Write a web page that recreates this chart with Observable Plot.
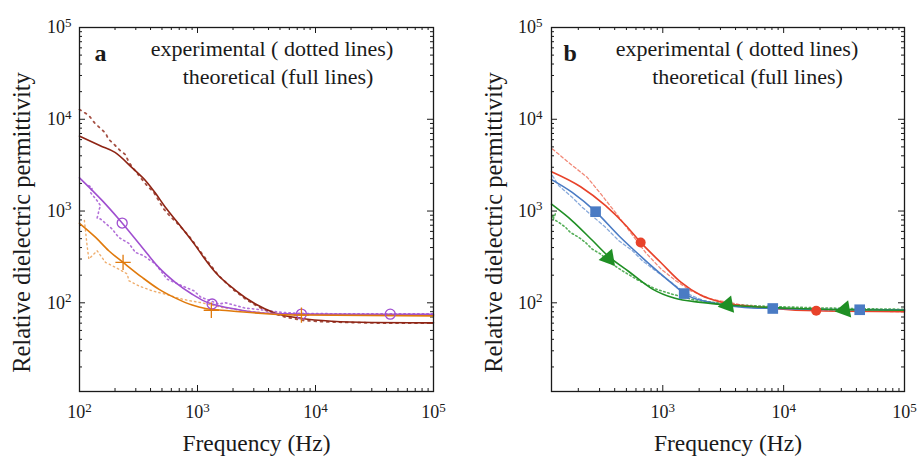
<!DOCTYPE html>
<html><head><meta charset="utf-8">
<script src="https://cdn.jsdelivr.net/npm/d3@7"></script>
<script src="https://cdn.jsdelivr.net/npm/@observablehq/plot@0.6"></script>
<style>
body{margin:0;background:#fff;}
#wrap{position:relative;width:917px;height:456px;}
#wrap > svg{position:absolute;top:0;}
#wrap svg, #wrap svg text, #wrap svg tspan{font-family:"Liberation Serif","Times New Roman",serif !important;}
</style></head><body><div id="wrap"></div>
<script>
// ---------- Panel a (f in Hz, relative permittivity) ----------
const aDarkRedFit = [[100,6550],[150,5150],[200,4350],[280,2950],[374,2050],[441,1560],[530,1115],[673,760],[961,420],[1130,312],[1422,214],[2100,137],[3100,97],[4580,77],[7700,67.5],[13800,63],[30000,61],[100000,60.5]];
const aDarkRedExp = [[100,12800],[120,11000],[135,9040],[156,7650],[168,6920],[175,6110],[195,5380],[218,4640],[245,4120],[262,3390],[290,2850],[330,2300],[374,1890],[426,1600],[469,1298],[518,1052],[590,867],[700,700],[850,530],[1000,400],[1200,290],[1500,200],[2000,140],[2600,108],[3300,90],[4200,78],[5500,70],[8000,64],[12000,62],[20000,61],[40000,60],[100000,60]];
const aPurpleFit = [[100,2300],[156,1297],[215,818],[340,401],[469,243],[652,166],[902,124],[1130,105],[1330,97],[2100,85.4],[3530,77.5],[7600,75.3],[100000,75]];
const aPurpleExp = [[120,1890],[128,1780],[124,1590],[141,1297],[151,1143],[146,1025],[144,927],[141,839],[151,818],[166,735],[189,637],[215,516],[262,444],[298,354],[350,326],[441,264],[553,181],[742,153],[932,135],[1060,116],[1510,97],[1730,100],[2540,87.5],[3100,85.4],[5220,78.5],[8000,76.5],[15000,76],[40000,76],[100000,76]];
const aOrangeFit = [[100,735],[137,516],[177,369],[234,276],[340,189],[469,141],[652,112.5],[902,94.4],[1170,86.5],[1840,81.8],[3530,76.6],[7700,73.5],[100000,72]];
const aOrangeExp = [[110,790],[116,418],[120,300],[141,369],[166,276],[202,243],[254,206],[262,174],[318,153],[413,135],[535,124],[694,112],[870,105],[1090,100],[1620,89],[2500,82],[4000,77],[7000,75],[15000,74.5],[40000,74],[100000,73.5]];
const aPurpleMarks = [[230,740],[1330,97],[7600,75.3],[43000,75.2]];
const aOrangeMarks = [[234,276],[1310,83],[7600,73.5]];

// ---------- Panel b ----------
const bRedFit = [[120,2685],[209,1841],[336,1143],[493,700],[656,455],[962,275],[1410,168],[2066,121],[3027,102],[6500,89.3],[18600,81.8],[100000,80]];
const bRedExp = [[122,4750],[172,3260],[237,2330],[306,1545],[407,959],[542,581],[723,351],[962,235],[1282,174],[1707,135],[2500,110],[4440,95],[9530,86],[24800,82],[100000,80]];
const bBlueFit = [[120,2200],[178,1597],[278,984],[433,538],[723,287],[1282,150],[1503,126],[2500,100.7],[4730,89],[8130,86.7],[42600,84],[100000,84]];
const bBlueExp = [[122,2430],[138,1888],[178,1410],[216,1097],[336,664],[433,474],[561,369],[678,287],[875,223],[1128,174],[1500,130],[2200,105],[3500,93],[6000,88],[15000,86],[40000,85],[100000,84]];
const bGreenFit = [[120,1187],[178,783],[261,480],[356,320],[526,218],[822,141],[1241,112.5],[2066,101],[3665,94],[11500,87.1],[33000,83.9],[100000,82.8]];
const bGreenExp = [[122,861],[129,929],[124,818],[138,751],[157,664],[172,584],[202,516],[229,455],[261,384],[306,340],[382,264],[463,223],[636,174],[875,141],[1203,124],[1800,108],[2670,100.7],[4000,95],[8000,91],[20000,88],[50000,86],[100000,85]];
const bBlueMarks = [[278,984],[1503,126],[8130,86.7],[42600,84]];
const bRedMarks = [[656,455],[18600,81.8]];
const bGreenMarks = [[356,305],[3440,94.5],[32000,84]];

// ---------- Axes / labels ----------
const yMajor = [1e2, 1e3, 1e4, 1e5];
const xMajorA = [1e2, 1e3, 1e4, 1e5];
const xMajorB = [1e3, 1e4, 1e5];
const legendLines = ["experimental ( dotted lines)", "theoretical (full lines)"];
const xTitle = "Frequency (Hz)";
const yTitle = "Relative dielectric permittivity";
const panelLetters = ["a", "b"];

const C = {darkred:"#8e2414", purple:"#a04fd0", orange:"#e07a0c", red:"#e8422a", blue:"#4a7bc4", green:"#1f8f24", ink:"#1a1a1a"};
const FONT = "Liberation Serif";
const H = 456, MT = 27, MB = 65;
const yDomain = [10.8, 1e5];

function minors(lo, hi) {
  const out = [];
  for (let e = 0; e <= 5; e++) for (let m = 2; m <= 9; m++) { const v = m * 10 ** e; if (v > lo && v < hi) out.push(v); }
  return out;
}
const pts = arr => arr.map(([f, e]) => ({f, e}));

function panel({width, ml, mr, xDomain, xMajor, letter, series, markers, legendDx}) {
  const fw = width - ml - mr, fh = H - MT - MB;
  const xMin = minors(xDomain[0], xDomain[1]), yMin = minors(yDomain[0], yDomain[1]);
  const xMaj = xMajor.filter(v => v >= xDomain[0] && v <= xDomain[1]);
  const tk = {stroke: C.ink, strokeWidth: 1};
  const marks = [
    Plot.tickX(xMaj, {x: d => d, insetTop: fh - 6, ...tk}),
    Plot.tickX(xMaj, {x: d => d, insetBottom: fh - 6, ...tk}),
    Plot.tickX(xMin, {x: d => d, insetTop: fh - 3, ...tk}),
    Plot.tickX(xMin, {x: d => d, insetBottom: fh - 3, ...tk}),
    Plot.tickY(yMajor, {y: d => d, insetRight: fw - 6, ...tk}),
    Plot.tickY(yMajor, {y: d => d, insetLeft: fw - 6, ...tk}),
    Plot.tickY(yMin, {y: d => d, insetRight: fw - 3, ...tk}),
    Plot.tickY(yMin, {y: d => d, insetLeft: fw - 3, ...tk}),
    Plot.axisX({ticks: xMajor, tickSize: 0, tickPadding: 14, fontSize: 18, fontFamily: FONT, label: null, tickFormat: d => "10^" + Math.round(Math.log10(d))}),
    Plot.axisY({ticks: yMajor, tickSize: 0, tickPadding: ml === 79 ? 8 : 9, fontSize: 18, fontFamily: FONT, label: null, tickFormat: d => "10^" + Math.round(Math.log10(d))}),
  ];
  for (const s of series) {
    marks.push(Plot.line(pts(s.data), {x: "f", y: "e", stroke: s.color, strokeWidth: s.exp ? s.w : 1.6,
      strokeDasharray: s.exp ? s.dash : null, strokeOpacity: s.exp ? 0.8 : 1, curve: s.exp ? "linear" : "monotone-x"}));
  }
  for (const m of markers) {
    marks.push(Plot.dot(pts(m.data), {x: "f", y: "e", symbol: m.symbol, r: m.r, fill: m.fill, stroke: m.stroke, strokeWidth: 1.3, rotate: m.rotate || 0}));
  }
  const txt = {fontFamily: FONT, fill: C.ink};
  marks.push(
    Plot.frame({stroke: C.ink, strokeWidth: 1.3}),
    Plot.text([letter], {text: d => d, frameAnchor: "top-left", dx: ml === 79 ? 15 : 12, dy: 33, lineAnchor: "bottom", textAnchor: "start", fontSize: 24, fontWeight: "bold", ...txt}),
    Plot.text([legendLines[0]], {text: d => d, frameAnchor: "top-left", dx: legendDx[0], dy: 28, lineAnchor: "bottom", textAnchor: "middle", fontSize: 22, ...txt}),
    Plot.text([legendLines[1]], {text: d => d, frameAnchor: "top-left", dx: legendDx[1], dy: 56, lineAnchor: "bottom", textAnchor: "middle", fontSize: 22, ...txt}),
    Plot.text([xTitle], {text: d => d, frameAnchor: "bottom", dy: 59, lineAnchor: "bottom", textAnchor: "middle", fontSize: 23.5, ...txt}),
    Plot.text([yTitle], {text: d => d, frameAnchor: "left", dx: -50, dy: 13, rotate: -90, lineAnchor: "bottom", textAnchor: "middle", fontSize: 24.5, ...txt})
  );
  const svg = Plot.plot({
    width, height: H, marginLeft: ml, marginRight: mr, marginTop: MT, marginBottom: MB,
    x: {type: "log", domain: xDomain}, y: {type: "log", domain: yDomain},
    style: {fontFamily: FONT, background: "white", color: C.ink, overflow: "visible"},
    marks
  });
  // superscript exponents in tick labels
  d3.select(svg).selectAll('g[aria-label="x-axis tick label"] text, g[aria-label="y-axis tick label"] text').each(function () {
    const t = d3.select(this), s = t.text();
    if (!s.includes("^")) return;
    const [b, p] = s.split("^");
    t.text(null);
    t.append("tspan").text(b);
    t.append("tspan").attr("dy", -6.5).attr("font-size", 13).text(p);
  });
  return svg;
}

const wrap = document.getElementById("wrap");
const dotA = "1.4 3.2";
const svgA = panel({
  width: 458, ml: 79, mr: 25, xDomain: [1e2, 1e5], xMajor: xMajorA, letter: panelLetters[0], legendDx: [192.5, 198.5],
  series: [
    {data: aDarkRedExp, color: C.darkred, exp: true, dash: "1.8 4.5", w: 1.8},
    {data: aPurpleExp, color: C.purple, exp: true, dash: dotA, w: 1.6},
    {data: aOrangeExp, color: "#eb9a4a", exp: true, dash: dotA, w: 1.4},
    {data: aDarkRedFit, color: C.darkred},
    {data: aPurpleFit, color: C.purple},
    {data: aOrangeFit, color: C.orange}
  ],
  markers: [
    {data: aPurpleMarks, symbol: "circle", r: 5, fill: "none", stroke: C.purple},
    {data: aOrangeMarks, symbol: "plus", r: 5, fill: "none", stroke: C.orange}
  ]
});
svgA.style.left = "0px";
const svgB = panel({
  width: 459, ml: 93, mr: 13, xDomain: [120, 1e5], xMajor: xMajorB, letter: panelLetters[1], legendDx: [185.5, 196],
  series: [
    {data: bRedExp, color: "#ee6a55", exp: true, dash: "3 2.5", w: 1.3},
    {data: bBlueExp, color: "#6b95d2", exp: true, dash: "3 2.5", w: 1.3},
    {data: bGreenExp, color: "#2c9a30", exp: true, dash: "1.6 2.6", w: 1.6},
    {data: bRedFit, color: C.red},
    {data: bBlueFit, color: C.blue},
    {data: bGreenFit, color: C.green}
  ],
  markers: [
    {data: bRedMarks, symbol: "circle", r: 5, fill: C.red, stroke: "none"},
    {data: bBlueMarks, symbol: "square", r: 6, fill: C.blue, stroke: "none"},
    {data: bGreenMarks, symbol: "triangle", r: 6.5, fill: C.green, stroke: "none", rotate: -100}
  ]
});
svgB.style.left = "458px";
wrap.append(svgA, svgB);
</script>
</body></html>
